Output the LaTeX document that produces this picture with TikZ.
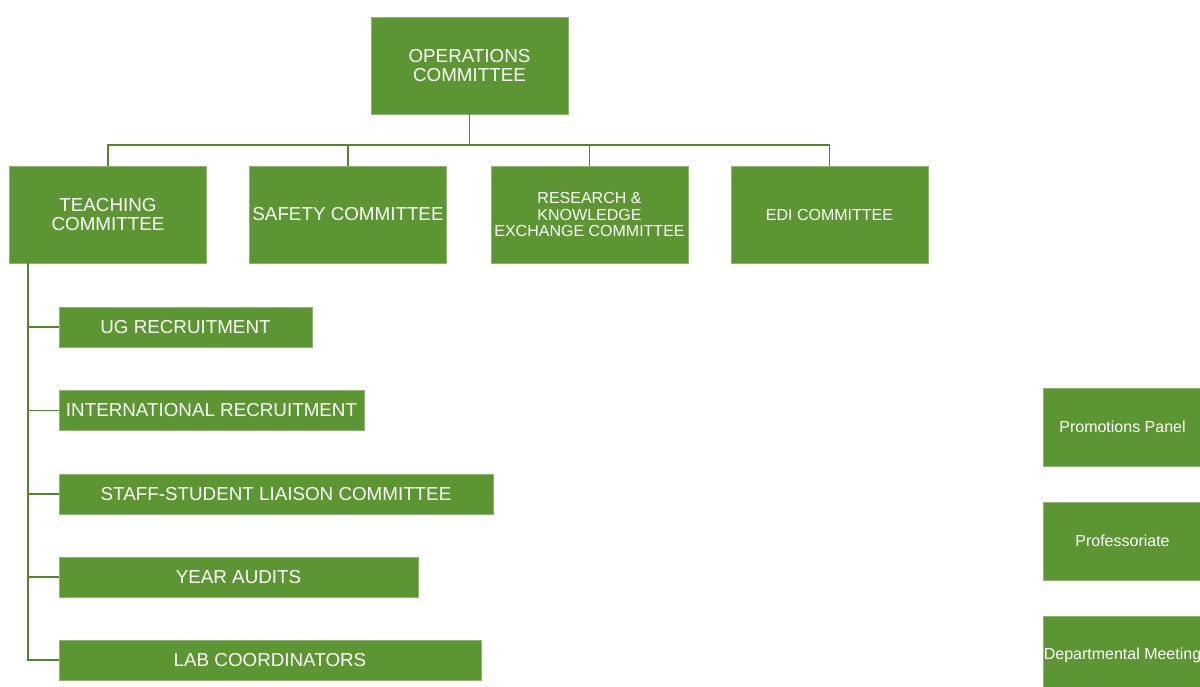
\documentclass[tikz,border=0pt]{standalone}
\usepackage{fontspec}
\setmainfont{Liberation Sans}
\usepackage{tikz}
\definecolor{boxgreen}{RGB}{92,150,50}
\definecolor{linegreen}{RGB}{80,135,40}
\tikzset{
  unit/.style={rectangle, fill=boxgreen, draw=boxgreen!70!white, line width=0.6pt,
    text=white, align=center, inner sep=0pt},
  bigunit/.style={unit, minimum width=197, minimum height=97},
  subunit/.style={unit, minimum height=40},
  sideunit/.style={unit, minimum width=159, minimum height=78,
    font=\fontsize{16}{17}\selectfont},
  link/.style={draw=linegreen, line width=1.8pt}
}

\begin{document}
\begin{tikzpicture}[x=1pt, y=-1pt]
  \useasboundingbox (0,0) rectangle (1200,687);
  % top row
  \node[bigunit, font=\fontsize{18.8}{19}\selectfont] (ops) at (469.5,65.5) {OPERATIONS\\COMMITTEE};
  \node[bigunit, font=\fontsize{18.8}{19}\selectfont] (teach) at (108,214.5) {TEACHING\\COMMITTEE};
  \node[bigunit, font=\fontsize{18.8}{19}\selectfont] (safety) at (348,214.5) {SAFETY COMMITTEE};
  \node[bigunit, font=\fontsize{16}{16.5}\selectfont] (research) at (589.5,214.5) {RESEARCH \&\\KNOWLEDGE\\EXCHANGE COMMITTEE};
  \node[bigunit, font=\fontsize{16}{16.5}\selectfont] (edi) at (829.5,214.5) {EDI COMMITTEE};
  \coordinate (bus) at (469.5,145);
  \draw[link] (ops.south) -- (bus);
  \draw[link] (bus) -| (teach.north);
  \draw[link] (bus) -| (safety.north);
  \draw[link] (bus) -| (research.north);
  \draw[link] (bus) -| (edi.north);

  % teaching sub-groups
  \node[subunit, minimum width=253, font=\fontsize{18.8}{19}\selectfont] (ug) at (185.5,327) {UG RECRUITMENT};
  \node[subunit, minimum width=305, font=\fontsize{18.8}{19}\selectfont] (intl) at (211.5,410.5) {INTERNATIONAL RECRUITMENT};
  \node[subunit, minimum width=434, font=\fontsize{18.8}{19}\selectfont] (liaison) at (276,494) {STAFF-STUDENT LIAISON COMMITTEE};
  \node[subunit, minimum width=359, font=\fontsize{18.8}{19}\selectfont] (audits) at (238.5,577) {YEAR AUDITS};
  \node[subunit, minimum width=422, font=\fontsize{18.8}{19}\selectfont] (lab) at (270,660) {LAB COORDINATORS};
  \coordinate (trunk) at (28,263.5);
  \draw[link] (trunk) |- (ug.west);
  \draw[link] (trunk) |- (intl.west);
  \draw[link] (trunk) |- (liaison.west);
  \draw[link] (trunk) |- (audits.west);
  \draw[link] (trunk) |- (lab.west);

  % panels on the right
  \node[sideunit] (promo) at (1122.5,427) {Promotions Panel};
  \node[sideunit] (prof) at (1122.5,541) {Professoriate};
  \node[sideunit] (dept) at (1122.5,655) {Departmental Meeting};
\end{tikzpicture}
\end{document}
